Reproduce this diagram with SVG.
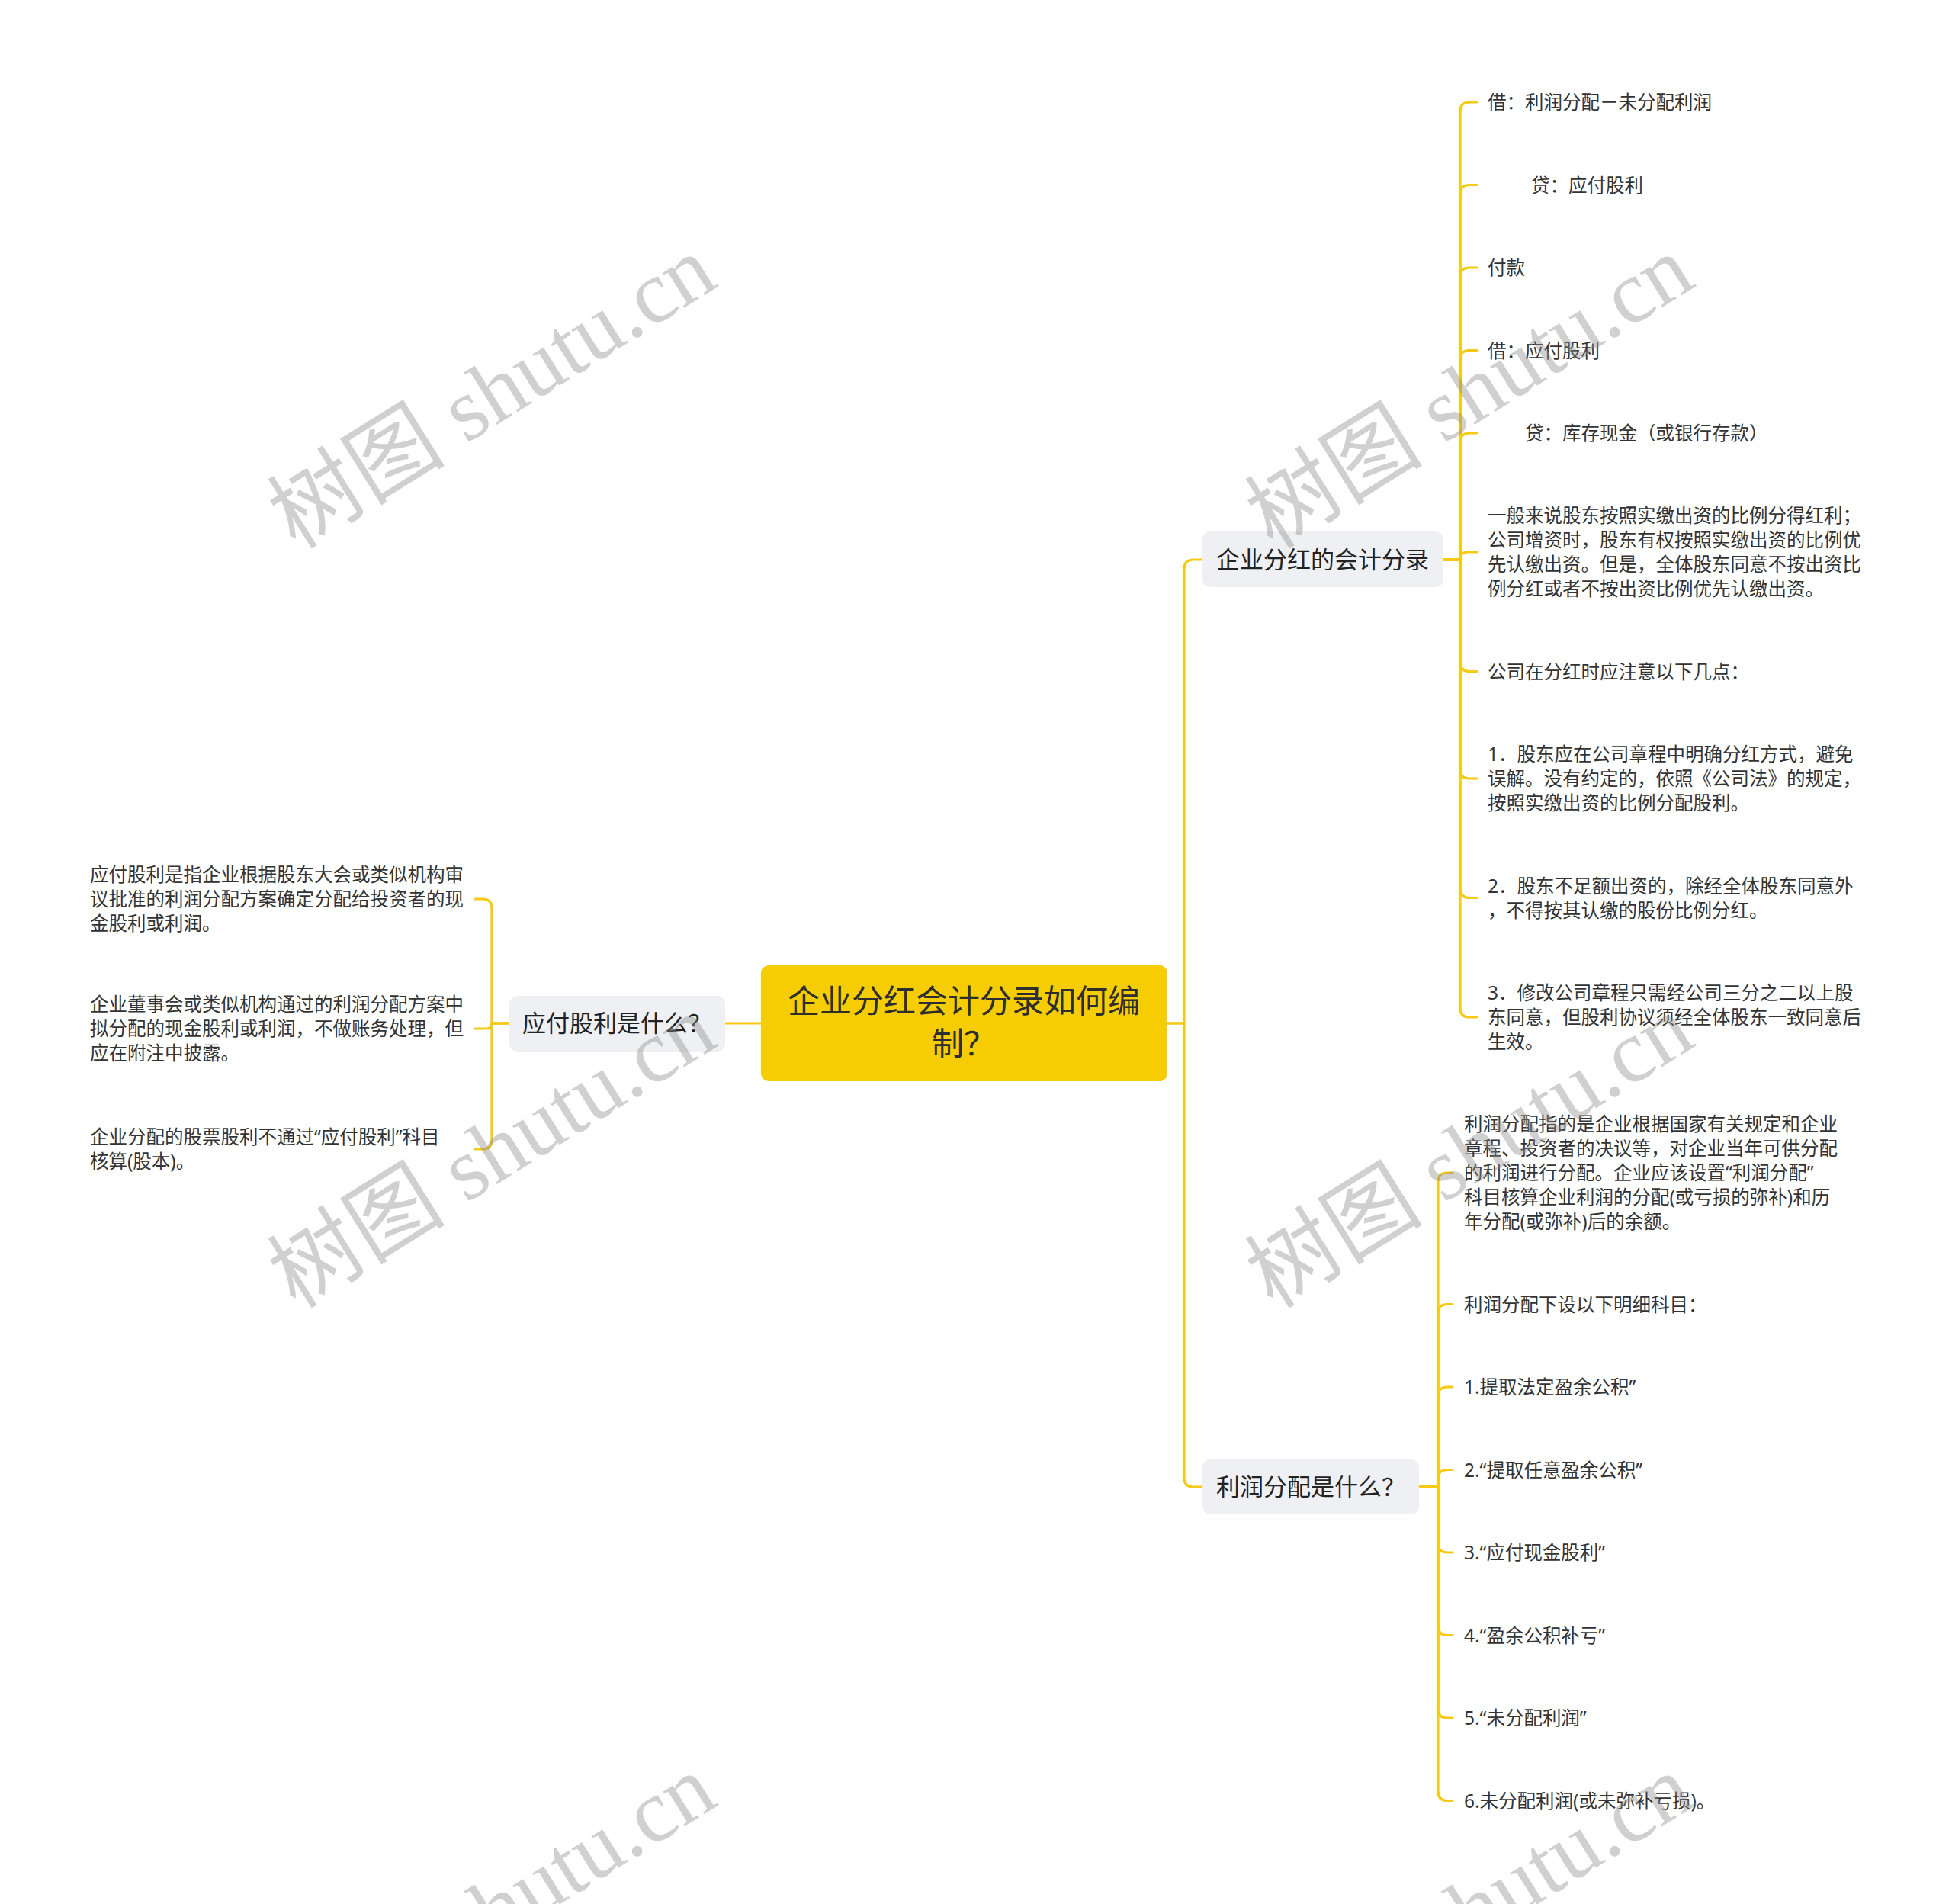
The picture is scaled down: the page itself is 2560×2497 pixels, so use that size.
<svg xmlns="http://www.w3.org/2000/svg" width="2560" height="2497" viewBox="0 0 2560 2497">
<style>
text { font-family: "Noto Sans", "Noto Sans CJK SC", sans-serif; }
.leaf { font-size: 24.5px; fill: #333333; }
.topic { font-size: 31px; fill: #222222; }
.roottxt { font-size: 42px; fill: #2e2e2e; text-anchor: middle; }
.tbox { fill: #EEF0F3; }
.rbox { fill: #F5CD02; }
.conn { fill: none; stroke: #F4CA14; stroke-width: 3.2; stroke-linecap: round; stroke-linejoin: round; }
.wm { font-family: "Liberation Serif", "Noto Sans CJK SC", serif; font-size: 117px; fill: #8a8a8a; fill-opacity: 0.4; text-anchor: middle; }
</style>
<rect width="2560" height="2497" fill="#ffffff"/>

<g id="connectors">
  <path class="conn" d="M 998 1342 L 951 1342"/>
  <path class="conn" d="M 669 1342 L 645 1342 L 645 1191 Q 645 1179 633 1179 L 623 1179"/>
  <path class="conn" d="M 669 1342 L 645 1342 Q 645 1349 638 1349 L 623 1349"/>
  <path class="conn" d="M 669 1342 L 645 1342 L 645 1495 Q 645 1507 633 1507 L 623 1507"/>

  <path class="conn" d="M 1531 1342 L 1553 1342 L 1553 746 Q 1553 734 1565 734 L 1577 734"/>
  <path class="conn" d="M 1531 1342 L 1553 1342 L 1553 1938 Q 1553 1950 1565 1950 L 1577 1950"/>

  <path class="conn" d="M 1893 734 L 1915 734 L 1915 146 Q 1915 134 1927 134 L 1937 134"/>
  <path class="conn" d="M 1893 734 L 1915 734 L 1915 254.5 Q 1915 242.5 1927 242.5 L 1937 242.5"/>
  <path class="conn" d="M 1893 734 L 1915 734 L 1915 363 Q 1915 351 1927 351 L 1937 351"/>
  <path class="conn" d="M 1893 734 L 1915 734 L 1915 471.5 Q 1915 459.5 1927 459.5 L 1937 459.5"/>
  <path class="conn" d="M 1893 734 L 1915 734 L 1915 580 Q 1915 568 1927 568 L 1937 568"/>
  <path class="conn" d="M 1893 734 L 1915 734 Q 1915 724 1925 724 L 1937 724"/>
  <path class="conn" d="M 1893 734 L 1915 734 L 1915 868.5 Q 1915 880.5 1927 880.5 L 1937 880.5"/>
  <path class="conn" d="M 1893 734 L 1915 734 L 1915 1009 Q 1915 1021 1927 1021 L 1937 1021"/>
  <path class="conn" d="M 1893 734 L 1915 734 L 1915 1165.5 Q 1915 1177.5 1927 1177.5 L 1937 1177.5"/>
  <path class="conn" d="M 1893 734 L 1915 734 L 1915 1322 Q 1915 1334 1927 1334 L 1937 1334"/>

  <path class="conn" d="M 1861 1950 L 1886 1950 L 1886 1550 Q 1886 1538 1898 1538 L 1905 1538"/>
  <path class="conn" d="M 1861 1950 L 1886 1950 L 1886 1722.5 Q 1886 1710.5 1898 1710.5 L 1905 1710.5"/>
  <path class="conn" d="M 1861 1950 L 1886 1950 L 1886 1831 Q 1886 1819 1898 1819 L 1905 1819"/>
  <path class="conn" d="M 1861 1950 L 1886 1950 L 1886 1939.5 Q 1886 1927.5 1898 1927.5 L 1905 1927.5"/>
  <path class="conn" d="M 1861 1950 L 1886 1950 L 1886 2024 Q 1886 2036 1898 2036 L 1905 2036"/>
  <path class="conn" d="M 1861 1950 L 1886 1950 L 1886 2132.5 Q 1886 2144.5 1898 2144.5 L 1905 2144.5"/>
  <path class="conn" d="M 1861 1950 L 1886 1950 L 1886 2241 Q 1886 2253 1898 2253 L 1905 2253"/>
  <path class="conn" d="M 1861 1950 L 1886 1950 L 1886 2349.5 Q 1886 2361.5 1898 2361.5 L 1905 2361.5"/>
</g>

<g id="root">
  <rect class="rbox" x="998" y="1266" width="533" height="152" rx="10"/>
  <text class="roottxt" x="1264" y="1328">企业分红会计分录如何编</text>
  <text class="roottxt" x="1264" y="1384">制？</text>
</g>

<g id="node-yingfu">
  <rect class="tbox" x="668" y="1306" width="283" height="73" rx="10"/>
  <text class="topic" x="685" y="1353">应付股利是什么？</text>
</g>

<g id="node-kuaiji">
  <rect class="tbox" x="1577" y="697" width="316" height="73" rx="10"/>
  <text class="topic" x="1595" y="745">企业分红的会计分录</text>
</g>

<g id="node-lirun">
  <rect class="tbox" x="1577" y="1914" width="284" height="72" rx="10"/>
  <text class="topic" x="1595" y="1961">利润分配是什么？</text>
</g>

<g id="leaf-l1">
  <text class="leaf" x="118" y="1156">应付股利是指企业根据股东大会或类似机构审</text>
  <text class="leaf" x="118" y="1188">议批准的利润分配方案确定分配给投资者的现</text>
  <text class="leaf" x="118" y="1220">金股利或利润。</text>
</g>
<g id="leaf-l2">
  <text class="leaf" x="118" y="1326">企业董事会或类似机构通过的利润分配方案中</text>
  <text class="leaf" x="118" y="1358">拟分配的现金股利或利润，不做账务处理，但</text>
  <text class="leaf" x="118" y="1390">应在附注中披露。</text>
</g>
<g id="leaf-l3">
  <text class="leaf" x="118" y="1500">企业分配的股票股利不通过“应付股利”科目</text>
  <text class="leaf" x="118" y="1532">核算(股本)。</text>
</g>

<g id="leaf-r1"><text class="leaf" x="1951" y="143">借：利润分配－未分配利润</text></g>
<g id="leaf-r2"><text class="leaf" x="2008" y="251.5">贷：应付股利</text></g>
<g id="leaf-r3"><text class="leaf" x="1951" y="360">付款</text></g>
<g id="leaf-r4"><text class="leaf" x="1951" y="468.5">借：应付股利</text></g>
<g id="leaf-r5"><text class="leaf" x="2000" y="577">贷：库存现金（或银行存款）</text></g>
<g id="leaf-r6">
  <text class="leaf" x="1951" y="685">一般来说股东按照实缴出资的比例分得红利；</text>
  <text class="leaf" x="1951" y="717">公司增资时，股东有权按照实缴出资的比例优</text>
  <text class="leaf" x="1951" y="749">先认缴出资。但是，全体股东同意不按出资比</text>
  <text class="leaf" x="1951" y="781">例分红或者不按出资比例优先认缴出资。</text>
</g>
<g id="leaf-r7"><text class="leaf" x="1951" y="889.5">公司在分红时应注意以下几点：</text></g>
<g id="leaf-r8">
  <text class="leaf" x="1951" y="998">1．股东应在公司章程中明确分红方式，避免</text>
  <text class="leaf" x="1951" y="1030">误解。没有约定的，依照《公司法》的规定，</text>
  <text class="leaf" x="1951" y="1062">按照实缴出资的比例分配股利。</text>
</g>
<g id="leaf-r9">
  <text class="leaf" x="1951" y="1170.5">2．股东不足额出资的，除经全体股东同意外</text>
  <text class="leaf" x="1951" y="1202.5">，不得按其认缴的股份比例分红。</text>
</g>
<g id="leaf-r10">
  <text class="leaf" x="1951" y="1311">3．修改公司章程只需经公司三分之二以上股</text>
  <text class="leaf" x="1951" y="1343">东同意，但股利协议须经全体股东一致同意后</text>
  <text class="leaf" x="1951" y="1375">生效。</text>
</g>

<g id="leaf-s1">
  <text class="leaf" x="1920" y="1483">利润分配指的是企业根据国家有关规定和企业</text>
  <text class="leaf" x="1920" y="1515">章程、投资者的决议等，对企业当年可供分配</text>
  <text class="leaf" x="1920" y="1547">的利润进行分配。企业应该设置“利润分配”</text>
  <text class="leaf" x="1920" y="1579">科目核算企业利润的分配(或亏损的弥补)和历</text>
  <text class="leaf" x="1920" y="1611">年分配(或弥补)后的余额。</text>
</g>
<g id="leaf-s2"><text class="leaf" x="1920" y="1719.5">利润分配下设以下明细科目：</text></g>
<g id="leaf-s3"><text class="leaf" x="1920" y="1828">1.提取法定盈余公积”</text></g>
<g id="leaf-s4"><text class="leaf" x="1920" y="1936.5">2.“提取任意盈余公积”</text></g>
<g id="leaf-s5"><text class="leaf" x="1920" y="2045">3.“应付现金股利”</text></g>
<g id="leaf-s6"><text class="leaf" x="1920" y="2153.5">4.“盈余公积补亏”</text></g>
<g id="leaf-s7"><text class="leaf" x="1920" y="2262">5.“未分配利润”</text></g>
<g id="leaf-s8"><text class="leaf" x="1920" y="2370.5">6.未分配利润(或未弥补亏损)。</text></g>

<g id="watermarks">
  <text class="wm" transform="translate(645 514) rotate(-32)" y="40">树图 shutu.cn</text>
  <text class="wm" transform="translate(1927 514) rotate(-32)" y="40">树图 shutu.cn</text>
  <text class="wm" transform="translate(645 1510) rotate(-32)" y="40">树图 shutu.cn</text>
  <text class="wm" transform="translate(1927 1510) rotate(-32)" y="40">树图 shutu.cn</text>
  <text class="wm" transform="translate(645 2506) rotate(-32)" y="40">树图 shutu.cn</text>
  <text class="wm" transform="translate(1927 2506) rotate(-32)" y="40">树图 shutu.cn</text>
</g>
</svg>
